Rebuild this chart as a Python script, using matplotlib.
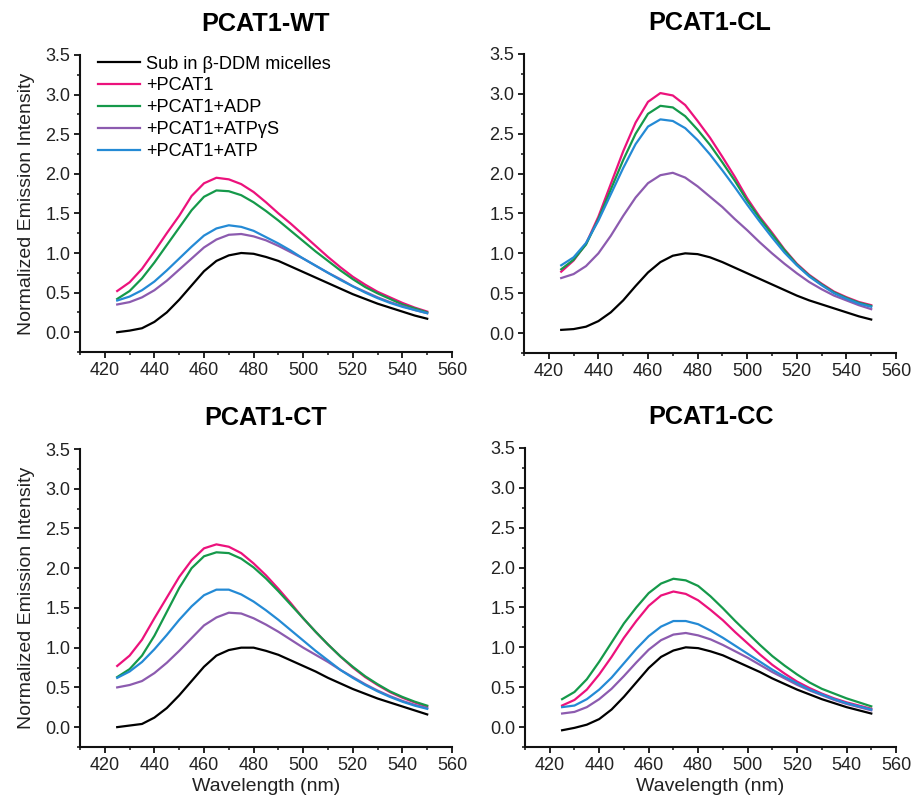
import matplotlib
matplotlib.use("Agg")
import matplotlib.pyplot as plt
from matplotlib.ticker import MultipleLocator

plt.rcParams['font.family'] = ['Liberation Sans', 'DejaVu Sans']

wavelength = [425, 430, 435, 440, 445, 450, 455, 460, 465, 470, 475, 480, 485,
              490, 495, 500, 505, 510, 515, 520, 525, 530, 535, 540, 545, 550]

series_labels = ["Sub in β-DDM micelles", "+PCAT1", "+PCAT1+ADP",
                 "+PCAT1+ATPγS", "+PCAT1+ATP"]
series_colors = ["#000000", "#EC127C", "#15994A", "#8C5BAF", "#248AD5"]

panel_titles = ["PCAT1-WT", "PCAT1-CL", "PCAT1-CT", "PCAT1-CC"]

# ---- PCAT1-WT ----
wt_sub = [0.00, 0.02, 0.05, 0.13, 0.25, 0.41, 0.59, 0.77, 0.90, 0.97, 1.00, 0.99, 0.95,
          0.90, 0.83, 0.76, 0.69, 0.62, 0.55, 0.48, 0.42, 0.36, 0.31, 0.26, 0.21, 0.17]
wt_pcat = [0.52, 0.63, 0.80, 1.02, 1.25, 1.47, 1.72, 1.88, 1.95, 1.93, 1.87, 1.77, 1.64,
           1.50, 1.37, 1.23, 1.09, 0.95, 0.82, 0.70, 0.60, 0.51, 0.44, 0.37, 0.31, 0.26]
wt_adp = [0.42, 0.52, 0.68, 0.88, 1.10, 1.32, 1.54, 1.71, 1.79, 1.78, 1.73, 1.64, 1.53,
          1.41, 1.28, 1.15, 1.02, 0.90, 0.78, 0.67, 0.57, 0.49, 0.42, 0.35, 0.30, 0.25]
wt_atpgs = [0.35, 0.38, 0.44, 0.53, 0.65, 0.79, 0.93, 1.07, 1.17, 1.23, 1.24, 1.21, 1.16,
            1.09, 1.01, 0.93, 0.84, 0.75, 0.67, 0.58, 0.51, 0.44, 0.38, 0.33, 0.28, 0.24]
wt_atp = [0.40, 0.45, 0.53, 0.64, 0.78, 0.93, 1.08, 1.22, 1.31, 1.35, 1.33, 1.28, 1.20,
          1.12, 1.03, 0.93, 0.84, 0.75, 0.66, 0.58, 0.50, 0.43, 0.37, 0.32, 0.28, 0.24]

# ---- PCAT1-CL ----
cl_sub = [0.04, 0.05, 0.08, 0.15, 0.26, 0.41, 0.59, 0.76, 0.89, 0.97, 1.00, 0.99, 0.95,
          0.89, 0.82, 0.75, 0.68, 0.61, 0.54, 0.47, 0.41, 0.36, 0.31, 0.26, 0.21, 0.17]
cl_pcat = [0.77, 0.91, 1.12, 1.46, 1.87, 2.28, 2.64, 2.90, 3.01, 2.98, 2.86, 2.66, 2.45,
           2.21, 1.96, 1.69, 1.46, 1.26, 1.05, 0.87, 0.73, 0.62, 0.52, 0.45, 0.39, 0.35]
cl_adp = [0.80, 0.92, 1.11, 1.43, 1.80, 2.17, 2.50, 2.75, 2.85, 2.83, 2.72, 2.55, 2.36,
          2.14, 1.91, 1.66, 1.44, 1.24, 1.04, 0.86, 0.72, 0.61, 0.51, 0.44, 0.38, 0.34]
cl_atpgs = [0.69, 0.74, 0.84, 1.00, 1.22, 1.47, 1.70, 1.88, 1.98, 2.01, 1.95, 1.84, 1.71,
            1.58, 1.43, 1.29, 1.14, 1.00, 0.87, 0.75, 0.64, 0.55, 0.47, 0.41, 0.35, 0.30]
cl_atp = [0.85, 0.95, 1.13, 1.41, 1.74, 2.07, 2.37, 2.59, 2.68, 2.66, 2.57, 2.42, 2.24,
          2.04, 1.83, 1.61, 1.40, 1.20, 1.01, 0.85, 0.71, 0.60, 0.50, 0.43, 0.37, 0.33]

# ---- PCAT1-CT ----
ct_sub = [0.00, 0.02, 0.04, 0.12, 0.24, 0.40, 0.58, 0.76, 0.90, 0.97, 1.00, 1.00, 0.96,
          0.91, 0.84, 0.77, 0.70, 0.62, 0.55, 0.48, 0.42, 0.36, 0.31, 0.26, 0.21, 0.16]
ct_pcat = [0.77, 0.90, 1.10, 1.37, 1.63, 1.89, 2.10, 2.25, 2.30, 2.27, 2.19, 2.06, 1.91,
           1.74, 1.56, 1.37, 1.20, 1.04, 0.89, 0.75, 0.63, 0.53, 0.44, 0.37, 0.31, 0.26]
ct_adp = [0.63, 0.73, 0.90, 1.15, 1.45, 1.75, 2.00, 2.15, 2.20, 2.19, 2.12, 2.01, 1.87,
          1.71, 1.54, 1.37, 1.20, 1.04, 0.89, 0.76, 0.64, 0.54, 0.45, 0.38, 0.32, 0.27]
ct_atpgs = [0.50, 0.53, 0.58, 0.68, 0.81, 0.96, 1.12, 1.28, 1.38, 1.44, 1.43, 1.37, 1.29,
            1.20, 1.10, 1.00, 0.91, 0.82, 0.72, 0.63, 0.54, 0.46, 0.39, 0.33, 0.28, 0.24]
ct_atp = [0.62, 0.70, 0.82, 0.98, 1.16, 1.35, 1.52, 1.66, 1.73, 1.73, 1.67, 1.58, 1.47,
          1.35, 1.22, 1.09, 0.96, 0.84, 0.72, 0.62, 0.53, 0.45, 0.38, 0.32, 0.27, 0.23]

# ---- PCAT1-CC ----
cc_sub = [-0.04, -0.01, 0.03, 0.10, 0.22, 0.38, 0.56, 0.74, 0.88, 0.96, 1.00, 0.99, 0.95,
          0.90, 0.83, 0.76, 0.69, 0.61, 0.54, 0.47, 0.41, 0.35, 0.30, 0.25, 0.21, 0.17]
cc_pcat = [0.27, 0.34, 0.47, 0.66, 0.88, 1.12, 1.33, 1.52, 1.65, 1.70, 1.67, 1.59, 1.47,
           1.34, 1.19, 1.05, 0.91, 0.78, 0.67, 0.57, 0.49, 0.42, 0.36, 0.31, 0.27, 0.23]
cc_adp = [0.35, 0.44, 0.60, 0.82, 1.06, 1.30, 1.50, 1.68, 1.80, 1.86, 1.84, 1.77, 1.64,
          1.49, 1.33, 1.18, 1.03, 0.89, 0.77, 0.66, 0.56, 0.48, 0.42, 0.36, 0.31, 0.26]
cc_atpgs = [0.17, 0.19, 0.25, 0.35, 0.48, 0.64, 0.81, 0.97, 1.09, 1.16, 1.18, 1.15, 1.10,
            1.03, 0.95, 0.87, 0.78, 0.69, 0.61, 0.53, 0.46, 0.40, 0.34, 0.29, 0.25, 0.21]
cc_atp = [0.25, 0.27, 0.35, 0.47, 0.62, 0.80, 0.98, 1.14, 1.26, 1.33, 1.33, 1.29, 1.21,
          1.12, 1.02, 0.92, 0.82, 0.72, 0.63, 0.55, 0.47, 0.41, 0.35, 0.30, 0.26, 0.22]

panels = [
    [wt_sub, wt_pcat, wt_adp, wt_atpgs, wt_atp],
    [cl_sub, cl_pcat, cl_adp, cl_atpgs, cl_atp],
    [ct_sub, ct_pcat, ct_adp, ct_atpgs, ct_atp],
    [cc_sub, cc_pcat, cc_adp, cc_atpgs, cc_atp],
]

W, H = 912, 802
fig = plt.figure(figsize=(W / 100, H / 100), dpi=100)

# axes boxes in pixels: left, top, right, bottom
boxes = [(80, 55, 452, 352), (524, 54, 896, 353),
         (80, 449, 452, 747), (525, 448, 896, 747)]

for i, (box, title, data) in enumerate(zip(boxes, panel_titles, panels)):
    l, t, r, b = box
    ax = fig.add_axes([l / W, 1 - b / H, (r - l) / W, (b - t) / H])
    for k in range(len(series_labels)):
        ax.plot(wavelength, data[k], color=series_colors[k], lw=1.6,
                label=series_labels[k], solid_joinstyle='round')
    ax.set_xlim(410, 560)
    ax.set_ylim(-0.25, 3.5)
    ax.xaxis.set_minor_locator(MultipleLocator(10))
    ax.yaxis.set_minor_locator(MultipleLocator(0.25))
    ax.set_yticks([0, 0.5, 1.0, 1.5, 2.0, 2.5, 3.0, 3.5])
    ax.yaxis.set_major_formatter(plt.FuncFormatter(lambda v, p: f"{v:.1f}"))
    ax.set_xticks([420, 440, 460, 480, 500, 520, 540, 560])
    for s in ['top', 'right']:
        ax.spines[s].set_visible(False)
    for s in ['left', 'bottom']:
        ax.spines[s].set_linewidth(1.5)
        ax.spines[s].set_color('#111111')
    ax.tick_params(which='major', direction='out', length=4, width=1.3,
                   labelsize=13, pad=3, colors='#111111', labelcolor='#222222')
    ax.tick_params(which='minor', direction='out', length=2.5, width=1.1,
                   colors='#111111')
    ax.set_title(title, fontsize=18.2, fontweight='bold', pad=17.5)
    if i in (0, 2):
        ax.set_ylabel("Normalized Emission Intensity", fontsize=14, labelpad=7,
                      color='#222222')
    if i in (2, 3):
        ax.set_xlabel("Wavelength (nm)", fontsize=14, labelpad=3,
                      color='#222222')
    if i == 0:
        ax.legend(loc='upper left', bbox_to_anchor=(0.02, 1.035), frameon=False,
                  fontsize=13.1, handlelength=2.3, handletextpad=0.3,
                  labelspacing=0.27, borderaxespad=0.2)

fig.savefig("out.png", dpi=100)
